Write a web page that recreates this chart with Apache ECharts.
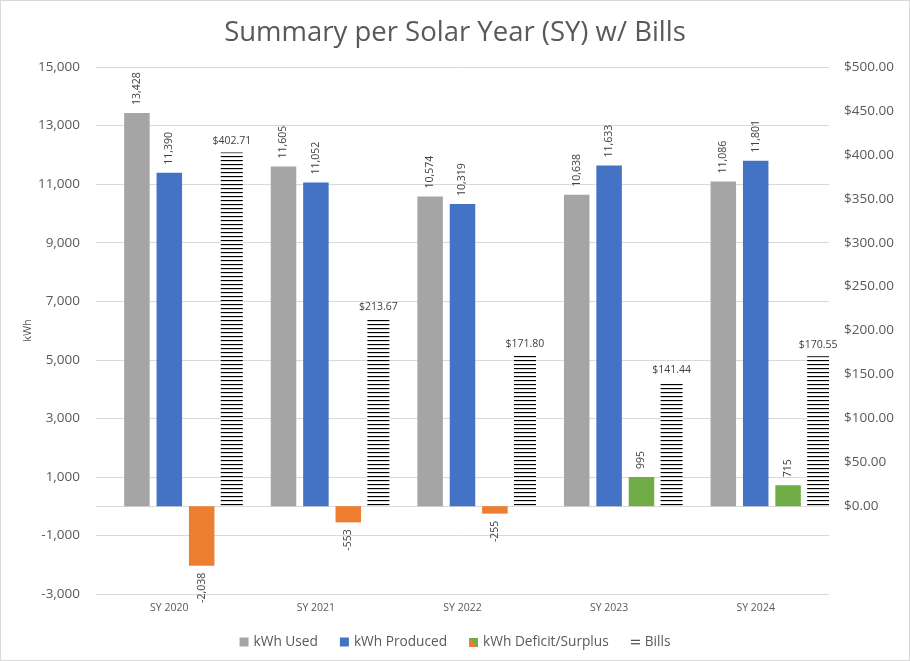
<!DOCTYPE html>
<html><head><meta charset="utf-8">
<script src="https://cdn.jsdelivr.net/npm/echarts@6/dist/echarts.min.js"></script>
<style>
html,body{margin:0;padding:0;background:#fff}
#wrap{position:relative;width:910px;height:661px}
#c{position:absolute;left:0;top:0;width:910px;height:661px}
#frame{position:absolute;left:0;top:0;width:910px;height:661px;box-sizing:border-box;border:1px solid #D9D9D9;pointer-events:none}
</style>
</head><body>
<div id="wrap"><div id="c"></div><div id="frame"></div></div>
<script>
// ---- data ----
const categories = ['SY 2020', 'SY 2021', 'SY 2022', 'SY 2023', 'SY 2024'];
const kwhUsed = [13428, 11605, 10574, 10638, 11086];
const kwhProduced = [11390, 11052, 10319, 11633, 11801];
const kwhDeficit = [-2038, -553, -255, 995, 715];
const bills = [402.71, 213.67, 171.80, 141.44, 170.55];
const legendNames = ['kWh Used', 'kWh Produced', 'kWh Deficit/Surplus', 'Bills'];

const FONT = 'Open Sans';
const AXIS_COLOR = '#595959';
const LABEL_COLOR = '#404040';

// stripe pattern for Bills
const pc = document.createElement('canvas');
pc.width = 4; pc.height = 4;
const g = pc.getContext('2d');
g.fillStyle = '#fff'; g.fillRect(0, 0, 4, 4);
g.fillStyle = '#000'; g.fillRect(0, 0, 4, 1);
g.fillStyle = 'rgba(0,0,0,0.15)'; g.fillRect(0, 1, 4, 1);

// legend icons
function iconDeficit() {
  const c = document.createElement('canvas'); c.width = 22; c.height = 22;
  const x = c.getContext('2d');
  x.fillStyle = '#70AD47'; x.fillRect(0, 0, 22, 22);
  x.fillStyle = '#ED7D31'; x.beginPath(); x.moveTo(0, 2); x.lineTo(0, 22); x.lineTo(20, 22); x.closePath(); x.fill();
  return 'image://' + c.toDataURL();
}
function iconBills() {
  const c = document.createElement('canvas'); c.width = 20; c.height = 18;
  const x = c.getContext('2d');
  x.fillStyle = '#000'; x.fillRect(0, 4, 20, 2); x.fillRect(0, 12, 20, 2);
  return 'image://' + c.toDataURL();
}

const fmtK = v => Number(v).toLocaleString('en-US');
const posLabel = {
  show: true, position: 'top', rotate: 90, align: 'left', verticalAlign: 'middle',
  distance: 8, fontSize: 10.5, color: LABEL_COLOR, fontFamily: FONT,
  formatter: p => fmtK(p.value)
};
const negLabel = {
  show: true, position: 'bottom', rotate: 90, align: 'right', verticalAlign: 'middle',
  distance: 7, fontSize: 10.5, color: LABEL_COLOR, fontFamily: FONT,
  formatter: p => fmtK(p.value)
};

const chart = echarts.init(document.getElementById('c'), null, { renderer: 'canvas' });
chart.setOption({
  animation: false,
  backgroundColor: '#fff',
  title: {
    text: 'Summary per Solar Year (SY) w/ Bills', left: 'center', top: 14,
    textStyle: { fontSize: 27.5, fontWeight: 'normal', color: AXIS_COLOR, fontFamily: FONT }
  },
  legend: {
    data: [
      { name: legendNames[0], icon: 'rect' },
      { name: legendNames[1], icon: 'rect' },
      { name: legendNames[2], icon: iconDeficit() },
      { name: legendNames[3], icon: iconBills() }
    ],
    top: 630, left: 'center', itemWidth: 9, itemHeight: 9, itemGap: 22,
    textStyle: { fontSize: 13.7, color: AXIS_COLOR, fontFamily: FONT }
  },
  grid: { left: 96, right: 81, top: 67, bottom: 67 },
  xAxis: [
    {
      type: 'category', data: categories, position: 'bottom',
      axisLine: { show: false, onZero: false }, axisTick: { show: false },
      axisLabel: { color: AXIS_COLOR, fontSize: 10.5, fontFamily: FONT, margin: 9 }
    },
    {
      type: 'category', data: categories, position: 'bottom',
      axisLine: { show: true, onZero: true, onZeroAxisIndex: 0, lineStyle: { color: '#D9D9D9', width: 1 } },
      axisTick: { show: false }, axisLabel: { show: false }
    }
  ],
  yAxis: [
    {
      type: 'value', min: -3000, max: 15000, interval: 2000,
      name: 'kWh', nameLocation: 'middle', nameGap: 63, nameMoveOverlap: false,
      nameTextStyle: { color: AXIS_COLOR, fontSize: 11, fontFamily: FONT },
      axisLine: { show: false }, axisTick: { show: false },
      axisLabel: { color: AXIS_COLOR, fontSize: 13.5, fontFamily: FONT, margin: 16, formatter: v => fmtK(v) },
      splitLine: { show: true, lineStyle: { color: '#D9D9D9', width: 1 } }
    },
    {
      type: 'value', min: -100, max: 500, interval: 50, position: 'right',
      axisLine: { show: false }, axisTick: { show: false },
      axisLabel: { color: AXIS_COLOR, fontSize: 13.5, fontFamily: FONT, margin: 15,
        formatter: v => (v < 0 ? '' : '$' + Number(v).toFixed(2)) },
      splitLine: { show: false }
    }
  ],
  series: [
    { name: legendNames[0], type: 'bar', xAxisIndex: 0, yAxisIndex: 0, data: kwhUsed,
      barWidth: 25.5, barGap: '27%', itemStyle: { color: '#A5A5A5' }, label: posLabel },
    { name: legendNames[1], type: 'bar', xAxisIndex: 0, yAxisIndex: 0, data: kwhProduced,
      barWidth: 25.5, barGap: '27%', itemStyle: { color: '#4472C4' }, label: posLabel },
    { name: legendNames[2], type: 'bar', xAxisIndex: 0, yAxisIndex: 0,
      data: kwhDeficit.map(v => (v < 0 ? { value: v, label: negLabel } : { value: v })),
      barWidth: 25.5, barGap: '27%',
      itemStyle: { color: p => (p.value < 0 ? '#ED7D31' : '#70AD47') }, label: posLabel },
    { name: 'pad', type: 'bar', xAxisIndex: 1, yAxisIndex: 1, data: categories.map(() => null),
      barWidth: 22, barGap: '468%', silent: true, itemStyle: { color: 'transparent' } },
    { name: legendNames[3], type: 'bar', xAxisIndex: 1, yAxisIndex: 1, data: bills,
      barWidth: 22, barGap: '468%',
      itemStyle: { color: { image: pc, repeat: 'repeat' } },
      label: { show: true, position: 'top', distance: 6, fontSize: 10.5, color: LABEL_COLOR, fontFamily: FONT,
        formatter: p => '$' + Number(p.value).toFixed(2) } }
  ]
});
</script>
</body></html>
